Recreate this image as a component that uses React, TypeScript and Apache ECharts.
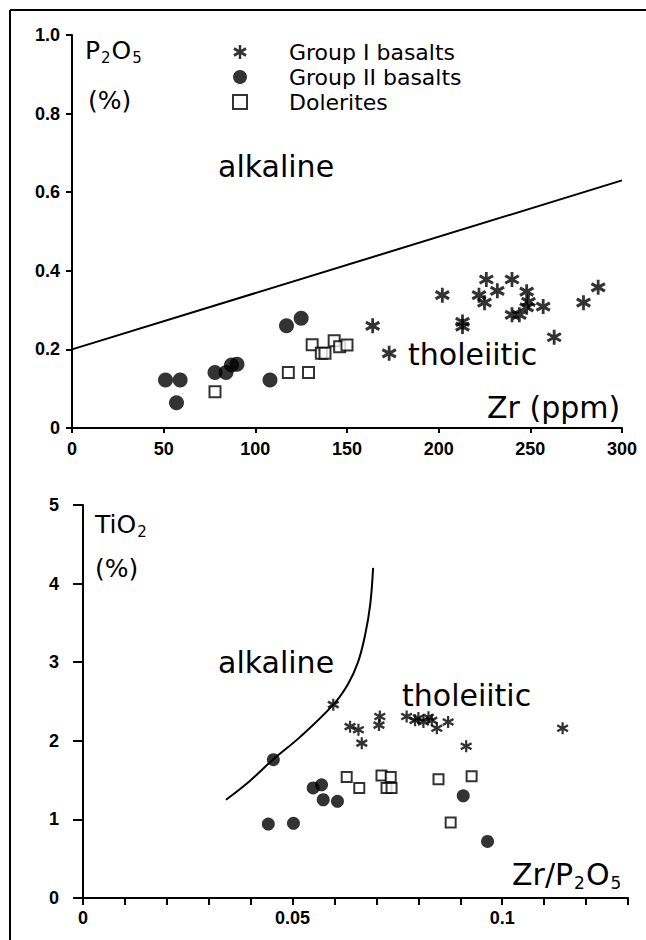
import React, { useEffect, useRef } from "react";
import * as echarts from "echarts";

// ---- Data: top panel (Zr ppm vs P2O5 %) ----
const topGroupI: number[][] = [
  [164, 0.26], [173, 0.19], [202, 0.338], [213, 0.27], [213, 0.258], [222, 0.338],
  [225, 0.319], [226, 0.378], [232, 0.349], [240, 0.378], [240, 0.288], [244, 0.288],
  [248, 0.347], [249, 0.321], [248, 0.307], [257, 0.309], [263, 0.231], [279, 0.319], [287, 0.358],
];
const topGroupII: number[][] = [
  [51, 0.122], [59, 0.122], [57, 0.064], [78, 0.141], [84, 0.141], [87, 0.16],
  [90, 0.162], [108, 0.122], [117, 0.26], [125, 0.279],
];
const topDolerites: number[][] = [
  [78, 0.092], [118, 0.141], [129, 0.141], [131, 0.212], [136, 0.19], [138, 0.19],
  [143, 0.222], [146, 0.207], [150, 0.211],
];
const topBoundary: number[][] = [[0, 0.2], [300, 0.63]];

// ---- Data: bottom panel (Zr/P2O5 vs TiO2 %) ----
const botGroupI: number[][] = [
  [0.0597, 2.46], [0.0637, 2.18], [0.0657, 2.14], [0.0665, 1.97], [0.0708, 2.31], [0.0706, 2.2],
  [0.0772, 2.31], [0.0792, 2.26], [0.08, 2.29], [0.0812, 2.24], [0.0824, 2.3], [0.0832, 2.26],
  [0.0844, 2.16], [0.0871, 2.24], [0.0914, 1.93], [0.1144, 2.16],
];
const botGroupII: number[][] = [
  [0.0454, 1.76], [0.0549, 1.4], [0.0569, 1.44], [0.0573, 1.25], [0.0607, 1.23],
  [0.0442, 0.94], [0.0502, 0.95], [0.0907, 1.3], [0.0965, 0.72],
];
const botDolerites: number[][] = [
  [0.0629, 1.54], [0.0659, 1.4], [0.0712, 1.56], [0.0734, 1.54], [0.0724, 1.4], [0.0736, 1.4],
  [0.0848, 1.51], [0.0927, 1.55], [0.0877, 0.96],
];
const botBoundary: number[][] = [
  [0.0341, 1.25], [0.0398, 1.49], [0.0453, 1.76], [0.0518, 2.05], [0.0597, 2.46],
  [0.0632, 2.72], [0.0656, 3.0], [0.0673, 3.35], [0.0685, 3.73], [0.0692, 4.2],
];

const legendNames = ["Group I basalts", "Group II basalts", "Dolerites"];

const STAR =
  "path://M41,0L59,0L59,100L41,100Z M11.7,16.2L98.3,66.2L88.3,83.8L1.7,33.8Z M98.3,33.8L11.7,83.8L1.7,66.2L88.3,16.2Z";

const BLACK = "#000";
const TXT = "DejaVu Sans";
const LBL = "Liberation Sans";

function txt(text: string, x: number, y: number, size: number, rich?: any) {
  return {
    type: "text",
    x,
    y,
    z: 100,
    style: {
      text,
      fontSize: size,
      fontFamily: TXT,
      fill: BLACK,
      align: "left",
      verticalAlign: "middle",
      rich,
    },
  };
}

const subRich = (size: number, pad: number) => ({
  s: { fontSize: size, fontFamily: TXT, fill: BLACK, padding: [pad, 1, 0, 1] },
});

export default function App() {
  const ref = useRef<HTMLDivElement>(null);
  useEffect(() => {
    if (!ref.current) return;
    const chart = echarts.init(ref.current, undefined, { renderer: "svg" });
    const axisLine = { show: true, onZero: false, lineStyle: { color: BLACK, width: 2 } };
    const labelBase = { color: BLACK, fontFamily: LBL, fontWeight: "bold" as const, fontSize: 18 };
    const option: any = {
      animation: false,
      backgroundColor: "#fff",
      grid: [
        { left: 72, right: 24, top: 35, bottom: 512 },
        { left: 83, right: 18, top: 505, bottom: 42 },
      ],
      xAxis: [
        {
          gridIndex: 0, type: "value", min: 0, max: 300, interval: 50,
          axisLine, splitLine: { show: false },
          axisTick: { show: true, length: 5, lineStyle: { color: BLACK, width: 2 } },
          axisLabel: { ...labelBase, margin: 12 },
        },
        {
          gridIndex: 1, type: "value", min: 0, max: 0.13, interval: 0.01,
          axisLine, splitLine: { show: false },
          axisTick: { show: true, length: 7, lineStyle: { color: BLACK, width: 2 } },
          axisLabel: {
            ...labelBase, margin: 11,
            formatter: (v: number) => {
              const k = Math.round(v * 100);
              return k === 0 ? "0" : k === 5 ? "0.05" : k === 10 ? "0.1" : "";
            },
          },
        },
      ],
      yAxis: [
        {
          gridIndex: 0, type: "value", min: 0, max: 1, interval: 0.2,
          axisLine, splitLine: { show: false },
          axisTick: { show: true, length: 6, lineStyle: { color: BLACK, width: 2 } },
          axisLabel: {
            ...labelBase, margin: 12,
            formatter: (v: number) => (Math.abs(v) < 1e-9 ? "0" : v.toFixed(1)),
          },
        },
        {
          gridIndex: 1, type: "value", min: 0, max: 5, interval: 1,
          axisLine, splitLine: { show: false },
          axisTick: { show: true, length: 10, lineStyle: { color: BLACK, width: 2 } },
          axisLabel: { ...labelBase, margin: 24 },
        },
      ],
      legend: {
        data: legendNames,
        orient: "vertical",
        left: 227,
        top: 36,
        itemWidth: 14,
        itemHeight: 14,
        itemGap: 3,
        selectedMode: false,
        textStyle: { fontFamily: TXT, fontSize: 22, color: BLACK, lineHeight: 22, padding: [0, 0, 0, 37] },
      },
      series: [
        { name: "Group I basalts", type: "scatter", xAxisIndex: 0, yAxisIndex: 0, data: topGroupI, symbol: STAR, symbolSize: 15, itemStyle: { color: BLACK }, z: 5 },
        { name: "Group II basalts", type: "scatter", xAxisIndex: 0, yAxisIndex: 0, data: topGroupII, symbol: "circle", symbolSize: 15, itemStyle: { color: BLACK }, z: 5 },
        { name: "Dolerites", type: "scatter", xAxisIndex: 0, yAxisIndex: 0, data: topDolerites, symbol: "rect", symbolSize: 11, itemStyle: { color: "#fff", borderColor: BLACK, borderWidth: 2 }, z: 6 },
        { name: "alkaline/tholeiitic (Zr)", type: "line", xAxisIndex: 0, yAxisIndex: 0, data: topBoundary, symbol: "none", lineStyle: { color: BLACK, width: 2 }, silent: true, z: 3 },
        { name: "Group I basalts", type: "scatter", xAxisIndex: 1, yAxisIndex: 1, data: botGroupI, symbol: STAR, symbolSize: 12, itemStyle: { color: BLACK }, z: 5 },
        { name: "Group II basalts", type: "scatter", xAxisIndex: 1, yAxisIndex: 1, data: botGroupII, symbol: "circle", symbolSize: 13, itemStyle: { color: BLACK }, z: 5 },
        { name: "Dolerites", type: "scatter", xAxisIndex: 1, yAxisIndex: 1, data: botDolerites, symbol: "rect", symbolSize: 10, itemStyle: { color: "#fff", borderColor: BLACK, borderWidth: 2 }, z: 6 },
        { name: "alkaline/tholeiitic (Zr/P2O5)", type: "line", xAxisIndex: 1, yAxisIndex: 1, data: botBoundary, symbol: "none", smooth: 0.4, lineStyle: { color: BLACK, width: 2 }, silent: true, z: 3 },
      ],
      graphic: [
        { type: "line", shape: { x1: 10, y1: 10, x2: 646, y2: 10 }, style: { stroke: BLACK, lineWidth: 2 } },
        { type: "line", shape: { x1: 10, y1: 10, x2: 10, y2: 940 }, style: { stroke: BLACK, lineWidth: 2 } },
        txt("P{s|2}O{s|5}", 85, 50, 25, subRich(15, 16)),
        txt("(%)", 88, 100, 25),
        txt("alkaline", 218, 166, 30),
        txt("tholeiitic", 408, 354, 30),
        txt("Zr (ppm)", 487, 407, 30),
        txt("TiO{s|2}", 95, 524, 25, subRich(15, 16)),
        txt("(%)", 95, 568, 25),
        txt("alkaline", 218, 662, 30),
        txt("tholeiitic", 402, 695, 30),
        txt("Zr/P{s|2}O{s|5}", 512, 874, 30, subRich(17, 18)),
      ],
    };
    chart.setOption(option);
    return () => chart.dispose();
  }, []);
  return (
    <div
      ref={ref}
      style={{ position: "fixed", left: 0, top: 0, width: 646, height: 940, background: "#fff" }}
    />
  );
}
